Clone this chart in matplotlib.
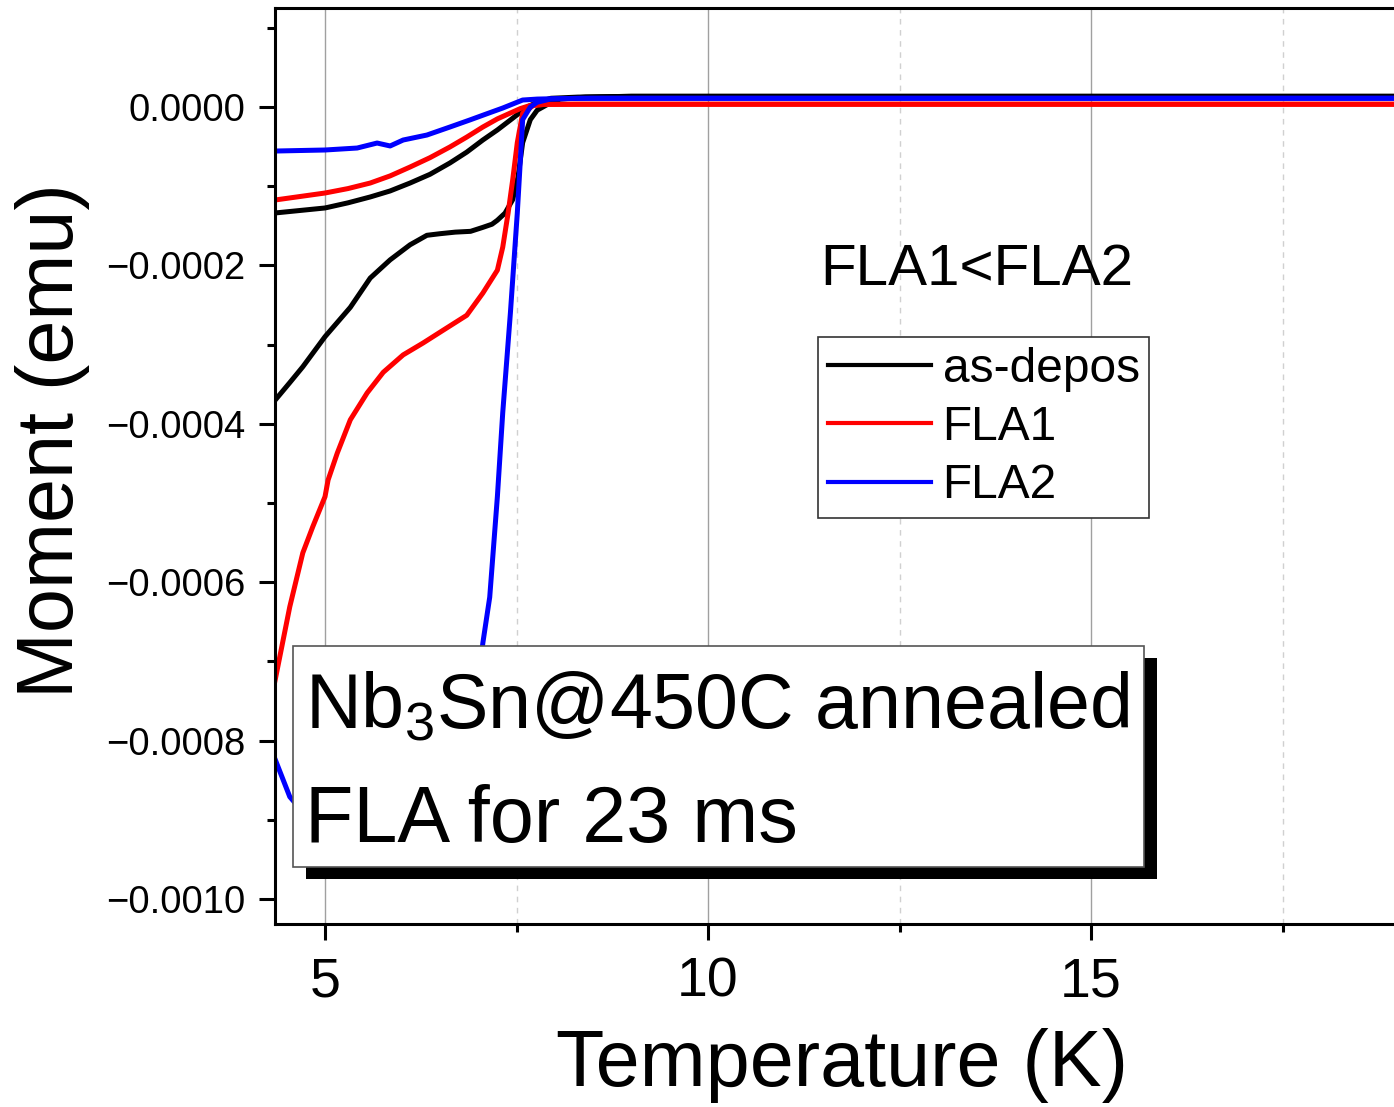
import numpy as np
import matplotlib
matplotlib.use("Agg")
import matplotlib.pyplot as plt
from matplotlib.patches import Rectangle
from matplotlib.ticker import MultipleLocator, FuncFormatter

plt.rcParams['font.family'] = ['Liberation Sans', 'DejaVu Sans']
plt.rcParams['mathtext.fontset'] = 'custom'
plt.rcParams['mathtext.rm'] = 'Liberation Sans'
plt.rcParams['mathtext.it'] = 'Liberation Sans:italic'

# ---------------- data (moment in units of 1e-4 emu) ----------------
scale = 1e-4

T_black_fc = [4.30, 4.35, 5.00, 5.30, 5.59, 5.85, 6.11, 6.37, 6.63, 6.85, 7.06, 7.25,
              7.42, 7.64, 7.77, 7.95, 8.3, 9, 10, 12, 14, 16, 18, 19.2]
M_black_fc = [-1.34, -1.338, -1.275, -1.21, -1.136, -1.06, -0.96, -0.85, -0.707, -0.57,
              -0.417, -0.29, -0.164, 0.0, 0.06, 0.11, 0.125, 0.135, 0.135, 0.135,
              0.135, 0.135, 0.135, 0.135]

T_black_zfc = [4.30, 4.35, 4.54, 4.71, 5.00, 5.33, 5.59, 5.85, 6.11, 6.33, 6.50, 6.70,
               6.90, 7.06, 7.18, 7.25, 7.35, 7.45, 7.52, 7.58, 7.68, 7.77, 7.90, 8.07,
               8.4, 9, 10, 12, 14, 16, 18, 19.2]
M_black_zfc = [-3.76, -3.70, -3.48, -3.28, -2.90, -2.53, -2.16, -1.93, -1.74, -1.62,
               -1.60, -1.58, -1.57, -1.52, -1.48, -1.43, -1.34, -1.17, -0.88, -0.45,
               -0.16, -0.04, 0.03, 0.10, 0.125, 0.135, 0.135, 0.135, 0.135, 0.135,
               0.135, 0.135]

T_red_fc = [4.30, 4.35, 5.00, 5.30, 5.59, 5.85, 6.11, 6.37, 6.63, 6.85, 7.06, 7.25,
            7.42, 7.55, 7.68, 7.87, 8.3, 9, 10, 12, 14, 16, 18, 19.2]
M_red_fc = [-1.18, -1.174, -1.086, -1.03, -0.96, -0.87, -0.758, -0.64, -0.505, -0.38,
            -0.253, -0.15, -0.076, -0.02, 0.02, 0.033, 0.035, 0.035, 0.035, 0.035,
            0.035, 0.035, 0.035, 0.035]

T_red_zfc = [4.30, 4.35, 4.54, 4.71, 4.84, 5.00, 5.04, 5.16, 5.33, 5.55, 5.76, 6.02,
             6.28, 6.54, 6.85, 7.06, 7.25, 7.32, 7.39, 7.45, 7.51, 7.58, 7.72, 7.87,
             8.3, 9, 10, 12, 14, 16, 18, 19.2]
M_red_zfc = [-7.47, -7.23, -6.31, -5.63, -5.30, -4.92, -4.71, -4.37, -3.95, -3.61,
             -3.35, -3.13, -2.98, -2.82, -2.63, -2.35, -2.06, -1.77, -1.34, -0.92,
             -0.45, -0.08, 0.02, 0.033, 0.035, 0.035, 0.035, 0.035, 0.035, 0.035,
             0.035, 0.035]

T_blue_fc = [4.30, 4.35, 5.00, 5.42, 5.68, 5.85, 6.02, 6.33, 6.63, 6.89, 7.10, 7.32,
             7.58, 7.77, 8.0, 8.5, 9, 10, 12, 14, 16, 18, 19.2]
M_blue_fc = [-0.556, -0.556, -0.543, -0.518, -0.455, -0.492, -0.417, -0.354, -0.253,
             -0.164, -0.09, -0.013, 0.088, 0.10, 0.105, 0.11, 0.11, 0.11, 0.11, 0.11,
             0.11, 0.11, 0.11]

T_blue_zfc = [4.30, 4.35, 4.54, 4.80, 5.33, 5.98, 6.50, 6.89, 7.06, 7.15, 7.25, 7.32,
              7.42, 7.51, 7.55, 7.58, 7.68, 7.77, 7.94, 8.3, 9, 10, 12, 14, 16, 18, 19.2]
M_blue_zfc = [-8.12, -8.24, -8.71, -9.00, -9.32, -9.38, -9.13, -8.24, -6.77, -6.19,
              -4.92, -3.86, -2.60, -1.34, -0.67, -0.16, 0.0, 0.06, 0.10, 0.11, 0.11,
              0.11, 0.11, 0.11, 0.11, 0.11, 0.11]

labels = ["as-depos", "FLA1", "FLA2"]
colors = ["black", "red", "blue"]

W, H = 1394, 1107
fig = plt.figure(figsize=(W / 100, H / 100), dpi=100)
ax = fig.add_axes([275 / W, 183 / H, 1119 / W, 916 / H])

curves = [(T_black_fc, M_black_fc, T_black_zfc, M_black_zfc),
          (T_red_fc, M_red_fc, T_red_zfc, M_red_zfc),
          (T_blue_fc, M_blue_fc, T_blue_zfc, M_blue_zfc)]
for (tf, mf, tz, mz), c, lab in zip(curves, colors, labels):
    ax.plot(tf, np.array(mf) * scale, color=c, lw=3.6, label=lab)
    ax.plot(tz, np.array(mz) * scale, color=c, lw=3.6)

ax.set_xlim(4.347, 18.955)
ax.set_ylim(-10.316e-4, 1.25e-4)

ax.xaxis.set_major_locator(MultipleLocator(5))
ax.xaxis.set_minor_locator(MultipleLocator(2.5))
ax.yaxis.set_major_locator(MultipleLocator(2e-4))
ax.yaxis.set_minor_locator(MultipleLocator(1e-4))
ax.yaxis.set_major_formatter(FuncFormatter(lambda v, p: ("%.4f" % v).replace("-", "\u2212")))

ax.grid(True, axis='x', which='major', color='#a0a0a0', lw=1.0, ls='-')
ax.grid(True, axis='x', which='minor', color='#d0d0d0', lw=1.0, ls=(0, (4, 4)))

for s in ['left', 'bottom', 'top']:
    ax.spines[s].set_linewidth(2.2)
ax.spines['right'].set_visible(False)

ax.tick_params(which='both', direction='out', width=2.2, top=False, right=False)
ax.tick_params(which='major', length=11.5)
ax.tick_params(which='minor', length=6)
ax.tick_params(axis='x', labelsize=40, pad=12)
ax.tick_params(axis='y', labelsize=27.5, pad=10)

ax.set_xlabel("Temperature (K)", fontsize=57)
ax.set_ylabel("Moment (emu)", fontsize=57)
ax.xaxis.set_label_coords(0.507, -0.113)
ax.yaxis.set_label_coords(-0.165, 0.528)

leg = ax.legend(loc='upper left', bbox_to_anchor=(818 / W, 1 - 337 / H),
                bbox_transform=fig.transFigure, borderaxespad=0, fontsize=34.5,
                frameon=True, fancybox=False, framealpha=1, edgecolor='#333333',
                handlelength=2.15, handletextpad=0.25, labelspacing=0.28,
                borderpad=0.2)
leg.get_frame().set_linewidth(1.2)
for h in leg.get_lines():
    h.set_linewidth(3.0)

fig.text(820 / W, 1 - 285 / H, "FLA1<FLA2", fontsize=42, ha='left', va='baseline')

# annotation box with shadow
fig.add_artist(Rectangle((306 / W, 1 - 879 / H), 851 / W, 221 / H,
                         transform=fig.transFigure, facecolor='black',
                         edgecolor='none', zorder=10))
fig.add_artist(Rectangle((293 / W, 1 - 867 / H), 851 / W, 221 / H,
                         transform=fig.transFigure, facecolor='white',
                         edgecolor='#555555', lw=1.2, zorder=11))
fig.text(305 / W, 1 - 728 / H, "Nb$_3$Sn@450C annealed", fontsize=55.5,
         ha='left', va='baseline', zorder=12)
fig.text(305 / W, 1 - 842 / H, "FLA for 23 ms", fontsize=57,
         ha='left', va='baseline', zorder=12)

fig.savefig("out.png", dpi=100)
